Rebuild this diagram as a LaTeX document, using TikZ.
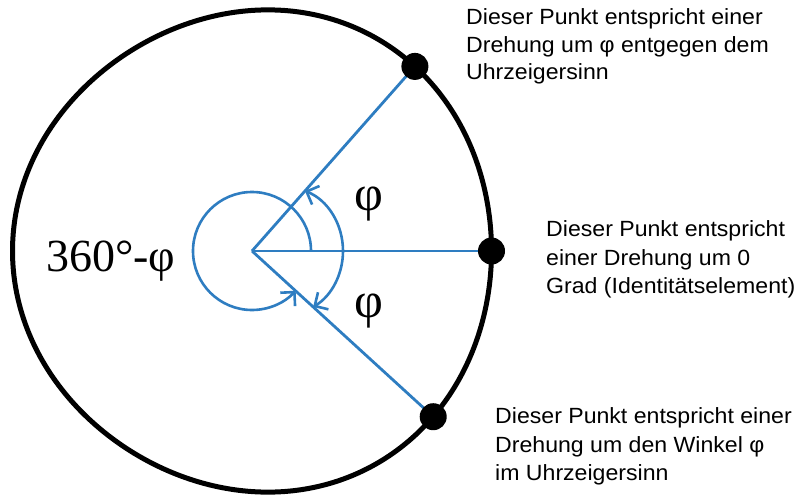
\documentclass[tikz,border=0pt]{standalone}
\usepackage{fontspec}
\setmainfont{Liberation Serif}
\newfontfamily\txtfont[FakeStretch=1.05]{Liberation Sans}
\newfontfamily\symfont{Liberation Serif}
\usetikzlibrary{arrows.meta}
\definecolor{rotblue}{RGB}{46,125,193}
\begin{document}
\begin{tikzpicture}[x=1pt,y=1pt,
  ray/.style={draw=rotblue,line width=2.8pt},
  arcline/.style={draw=rotblue,line width=2.6pt,-{Straight Barb[length=10pt,width=20pt]}},
  dot/.style={circle,fill=black,minimum size=27pt,inner sep=0pt},
  desc/.style={anchor=base west,inner sep=0pt,font=\txtfont\fontsize{22}{28}\selectfont},
  greek/.style={anchor=base,inner sep=0pt,font=\symfont\fontsize{50}{54}\selectfont}]
\useasboundingbox (0,0) rectangle (799,499);

% centre and dot positions
\coordinate (c) at (252,248);
\coordinate (pt) at (414.9,432.6);
\coordinate (pr) at (491.5,248);
\coordinate (pb) at (433.2,82.3);

% blue rays
\draw[ray] (c) -- (pt);
\draw[ray] (c) -- (pr);
\draw[ray] (c) -- (pb);

% 360-phi arc
\coordinate (a0) at (311,248);
\draw[arcline] (a0) arc[start angle=0,end angle=317.7,radius=59];

% phi arcs
\coordinate (e0) at (343,248);
\draw[arcline] (e0) arc[start angle=0,end angle=70,x radius=58,y radius=64];
\draw[arcline] (e0) arc[start angle=0,end angle=-61,x radius=58,y radius=64];

% outer circle
\draw[line width=5pt] plot[domain=0:360,samples=181,smooth]
  ({251+(240+5.1*cos(\x)-0.5*cos(2*\x)-4.1*cos(3*\x))*cos(\x)},
   {248+(240+5.1*cos(\x)-0.5*cos(2*\x)-4.1*cos(3*\x))*sin(\x)}) -- cycle;

% dots
\node[dot] (dt) at (pt) {};
\node[dot] (dr) at (pr) {};
\node[dot] (db) at (pb) {};

% angle labels
\node[greek,anchor=base west,font=\symfont\fontsize{46}{50}\selectfont] (full) at (46,228) {360°-φ};
\node[greek] (phiu) at (368.5,289) {φ};
\node[greek] (phil) at (368.5,182) {φ};

% descriptions
\node[desc] (t1) at (466,474) {Dieser Punkt entspricht einer};
\node[desc] (t2) at (466,446) {Drehung um φ entgegen dem};
\node[desc] (t3) at (466,419) {Uhrzeigersinn};

\node[desc] (m1) at (546,262.3) {Dieser Punkt entspricht};
\node[desc] (m2) at (546,234) {einer Drehung um 0};
\node[desc] (m3) at (546,206) {Grad (Identitätselement)};

\node[desc] (b1) at (495,76) {Dieser Punkt entspricht einer};
\node[desc] (b2) at (495,47) {Drehung um den Winkel φ};
\node[desc] (b3) at (495,19) {im Uhrzeigersinn};
\end{tikzpicture}
\end{document}
